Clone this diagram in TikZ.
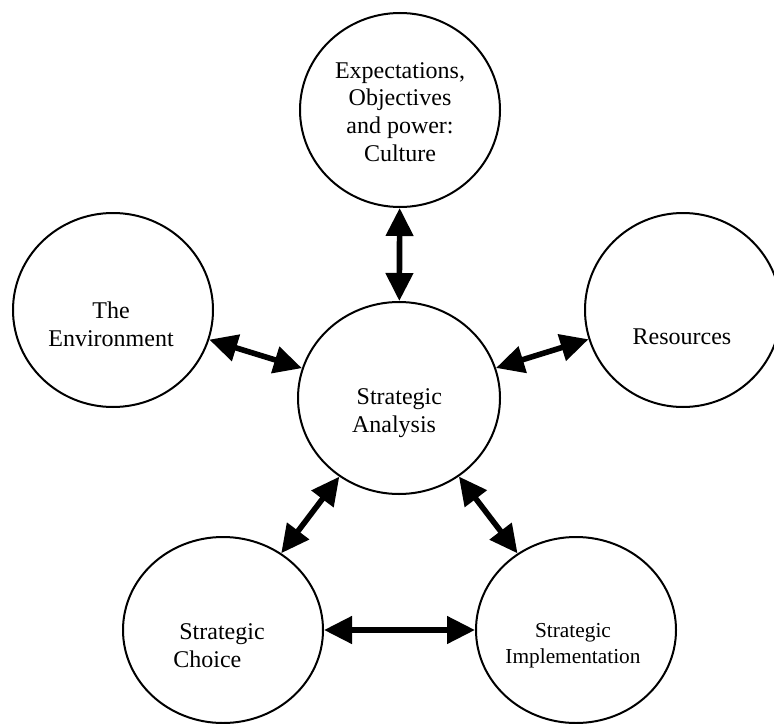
\documentclass[tikz,border=0pt]{standalone}
\usepackage{fontspec}
\setmainfont{Liberation Serif}
\usetikzlibrary{shapes.geometric,arrows.meta}
\tikzset{
  bubble/.style={ellipse, draw, line width=1.5pt, inner sep=0pt, minimum width=150pt},
  lbl/.style={align=center, inner sep=0pt, font=\fontsize{18pt}{20.8pt}\selectfont},
  lblsmall/.style={align=center, inner sep=0pt, font=\fontsize{16pt}{19.5pt}\selectfont},
  conn/.style={line width=4.2pt, {Triangle[length=21pt,width=20pt]}-{Triangle[length=21pt,width=20pt]}}
}
\begin{document}
\begin{tikzpicture}[x=0.75pt,y=-0.75pt]
\useasboundingbox (0,0) rectangle (774,724);
% bubbles
\node[bubble, minimum height=145.5pt] (top) at (400,110) {};
\node[bubble, minimum height=145.5pt] (env) at (113,310) {};
\node[bubble, minimum width=147pt, minimum height=145.5pt] (res) at (683,310) {};
\node[bubble, minimum width=151.5pt, minimum height=144pt] (ctr) at (399,398) {};
\node[bubble, minimum height=139.5pt] (cho) at (223,630) {};
\node[bubble, minimum height=139.5pt] (imp) at (576,630) {};
% texts
\node[lbl] (ttop) at (400,112) {Expectations,\\Objectives\\and power:\\Culture};
\node[lbl] (tenv) at (111,324) {The\\Environment};
\node[lbl] (tres) at (682,337) {Resources};
\node[lbl, align=left] (tctr) at (397,413) {\hspace*{3.5pt}Strategic\\Analysis};
\node[lbl, align=left] (tcho) at (219,646) {\hspace*{4.5pt}Strategic\\Choice};
\node[lblsmall] (timp) at (573,646) {Strategic\\Implementation};
% connectors
\draw[conn] (top) -- (ctr);
\draw[conn] (env) -- (ctr);
\draw[conn] (res) -- (ctr);
\draw[conn] (ctr) -- (cho);
\draw[conn] (ctr) -- (imp);
\draw[conn] (cho) -- (imp);
\end{tikzpicture}
\end{document}
